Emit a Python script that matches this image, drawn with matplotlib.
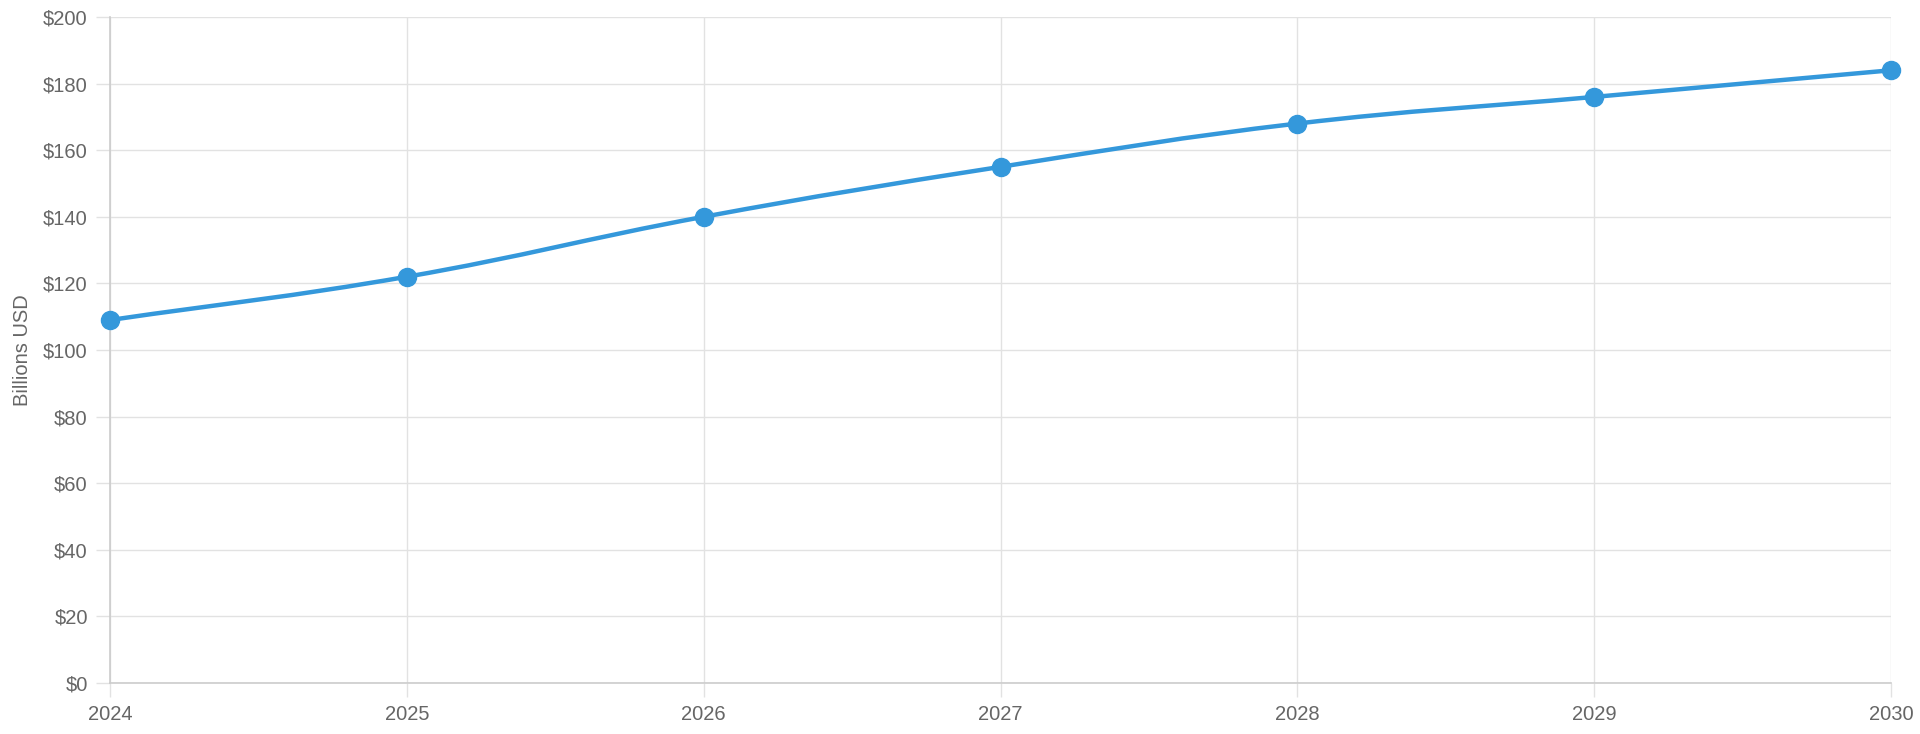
import matplotlib.pyplot as plt
from matplotlib.path import Path
from matplotlib.patches import PathPatch
from matplotlib.ticker import FuncFormatter

years = [2024, 2025, 2026, 2027, 2028, 2029, 2030]
values = [109, 122, 140, 155, 168, 176, 184]

line_color = "#3498db"
text_color = "#666666"
grid_color = "#e2e2e2"


def spline_path(xs, ys, tension=0.4):
    # Chart.js style bezier control points
    verts = [(xs[0], ys[0])]
    codes = [Path.MOVETO]
    n = len(xs)
    ctrl = []
    for i in range(n):
        p = (xs[max(i - 1, 0)], ys[max(i - 1, 0)])
        c = (xs[i], ys[i])
        nx = (xs[min(i + 1, n - 1)], ys[min(i + 1, n - 1)])
        d01 = ((c[0] - p[0]) ** 2 + (c[1] - p[1]) ** 2) ** 0.5
        d12 = ((nx[0] - c[0]) ** 2 + (nx[1] - c[1]) ** 2) ** 0.5
        s01 = d01 / (d01 + d12) if d01 + d12 else 0
        s12 = d12 / (d01 + d12) if d01 + d12 else 0
        fa = tension * s01
        fb = tension * s12
        prev_cp = (c[0] - fa * (nx[0] - p[0]), c[1] - fa * (nx[1] - p[1]))
        next_cp = (c[0] + fb * (nx[0] - p[0]), c[1] + fb * (nx[1] - p[1]))
        ctrl.append((prev_cp, next_cp))
    for i in range(1, n):
        verts += [ctrl[i - 1][1], ctrl[i][0], (xs[i], ys[i])]
        codes += [Path.CURVE4] * 3
    return Path(verts, codes)


plt.rcParams["font.family"] = ["Liberation Sans", "DejaVu Sans"]

fig = plt.figure(figsize=(19.2, 7.34), dpi=100)
ax = fig.add_axes([110 / 1920, 51 / 734, 1781 / 1920, 666 / 734])

xs = list(range(len(years)))
ax.set_xlim(0, len(years) - 1)
ax.set_ylim(0, 200)

# smooth line in pixel-ish space: scale x so tension looks right
sx = 1781 / (len(years) - 1)
sy = 666 / 200
path = spline_path([x * sx for x in xs], [v * sy for v in values])
path = Path([(vx / sx, vy / sy) for vx, vy in path.vertices], path.codes)
ax.add_patch(PathPatch(path, facecolor="none", edgecolor=line_color, lw=3.2,
                       capstyle="round", zorder=3, clip_on=False))
ax.plot(xs, values, "o", color=line_color, markersize=13, zorder=4, clip_on=False)

ax.set_xticks(xs)
ax.set_xticklabels([str(y) for y in years])
ax.set_yticks(range(0, 201, 20))
ax.yaxis.set_major_formatter(FuncFormatter(lambda v, p: f"${int(v)}"))

ax.grid(True, color=grid_color, lw=1)
ax.set_axisbelow(True)
for side in ["top", "right"]:
    ax.spines[side].set_visible(False)
for side in ["left", "bottom"]:
    ax.spines[side].set_color("#cccccc")
    ax.spines[side].set_linewidth(1.2)

ax.tick_params(axis="both", colors=grid_color, length=10, width=1,
               labelcolor=text_color, labelsize=14.5)
ax.tick_params(axis="y", pad=6)
ax.tick_params(axis="x", pad=6)

ax.set_ylabel("Billions USD", color=text_color, fontsize=14.5, labelpad=8)

fig.savefig("out.png", dpi=100, facecolor="white")
